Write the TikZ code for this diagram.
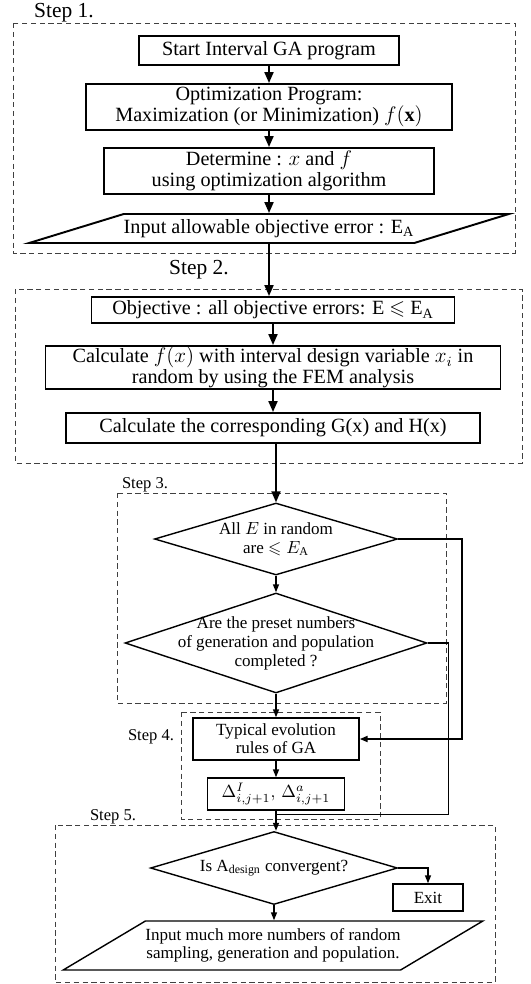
\documentclass[tikz,border=0pt]{standalone}
\usepackage{amssymb}
\usepackage{fontspec}
\setmainfont{Liberation Serif}
\usetikzlibrary{arrows.meta, positioning, shapes.geometric, calc}

\begin{document}
\begin{tikzpicture}[
    bigbox/.style={rectangle, draw=black, line width=1.1pt, align=center, inner sep=0.5pt, font=\fontsize{11.5}{11.8}\selectfont},
    smallbox/.style={rectangle, draw=black, thick, align=center, inner sep=1pt, font=\fontsize{9.7}{10.2}\selectfont},
    decision/.style={diamond, draw=black, thick, inner sep=0pt},
    dtext/.style={align=center, font=\fontsize{9.7}{10.8}\selectfont},
    io/.style={trapezium, draw=black, trapezium stretches=true, align=center, inner xsep=0pt, inner ysep=1pt},
    stepbox/.style={draw=black!75, densely dashed},
    steplabel/.style={font=\fontsize{12.2}{13}\selectfont},
    steplabelsmall/.style={font=\fontsize{9.4}{11}\selectfont},
    arrow/.style={-{Triangle[length=2.2mm, width=1.8mm]}, line width=1.1pt},
    arrowsmall/.style={-{Triangle[length=1.6mm, width=1.2mm]}, thick}
]
\useasboundingbox (0,0) rectangle (10.62,-19.68);

% step frames
\draw[stepbox] (0.26,-0.46) rectangle (10.30,-5.06);
\draw[stepbox] (0.30,-5.78) rectangle (10.44,-9.26);
\draw[stepbox] (2.34,-9.86) rectangle (8.92,-14.06);
\draw[stepbox] (3.62,-14.24) rectangle (7.60,-16.38);
\draw[stepbox] (1.10,-16.50) rectangle (9.90,-19.64);

\node[steplabel] (step1) at (1.28,-0.26) {Step 1.};
\node[steplabel] (step2) at (3.98,-5.40) {Step 2.};
\node[steplabelsmall] (step3) at (2.90,-9.70) {Step 3.};
\node[steplabelsmall] (step4) at (3.02,-14.74) {Step 4.};
\node[steplabelsmall] (step5) at (2.26,-16.34) {Step 5.};

% step 1
\node[bigbox, minimum width=5.2cm, minimum height=0.58cm] (start) at (5.38,-1.01) {Start Interval GA program};
\node[bigbox, minimum width=7.32cm, minimum height=0.92cm] (optim) at (5.38,-2.14) {Optimization Program:\\Maximization (or Minimization) $f(\mathbf{x})$};
\node[bigbox, minimum width=6.6cm, minimum height=0.92cm] (determine) at (5.38,-3.42) {Determine : $x$ and $f$\\using optimization algorithm};
\node[io, trapezium left angle=13, trapezium right angle=167, line width=1.1pt, minimum height=0.58cm, font=\fontsize{11.5}{11.8}\selectfont] (errin) at (5.38,-4.57) {Input allowable objective error : E$_{\mathrm{A}}$};

% step 2
\node[bigbox, minimum width=7.26cm, minimum height=0.52cm] (objective) at (5.46,-6.20) {Objective : all objective errors: E $\leqslant$ E$_{\mathrm{A}}$};
\node[bigbox, minimum width=9.1cm, minimum height=0.86cm] (calcf) at (5.46,-7.35) {Calculate $f(x)$ with interval design variable $x_i$ in\\random by using the FEM analysis};
\node[bigbox, minimum width=8.28cm, minimum height=0.6cm] (calcgh) at (5.46,-8.56) {Calculate the corresponding G(x) and H(x)};

% step 3
\node[decision, minimum width=4.86cm, minimum height=1.44cm, label={[dtext]center:All $E$ in random\\are $\leqslant E_{\mathrm{A}}$}] (allerr) at (5.52,-10.78) {};
\node[decision, minimum width=6.04cm, minimum height=2.0cm, label={[dtext]center:Are the preset numbers\\of generation and population\\completed ?}] (preset) at (5.52,-12.86) {};

% step 4
\node[smallbox, minimum width=3.32cm, minimum height=0.84cm] (evolve) at (5.52,-14.78) {Typical evolution\\rules of GA};
\node[smallbox, minimum width=2.74cm, minimum height=0.64cm] (delta) at (5.52,-15.88) {$\Delta^{I}_{i,j+1},\,\Delta^{a}_{i,j+1}$};

% step 5
\node[decision, minimum width=4.94cm, minimum height=1.46cm, label={[dtext]center:Is A$_{\mathrm{design}}$ convergent?}] (conv) at (5.48,-17.36) {};
\node[smallbox, minimum width=1.4cm, minimum height=0.54cm] (exitbox) at (8.56,-17.95) {Exit};
\node[io, trapezium left angle=24.5, trapezium right angle=155.5, thick, minimum height=0.98cm, font=\fontsize{9.7}{10.4}\selectfont] (moreinput) at (5.46,-18.91) {Input much more numbers of random\\sampling, generation and population.};

\draw[arrow] (start) -- (optim);
\draw[arrow] (optim) -- (determine);
\draw[arrow] (determine) -- (errin);
\draw[arrow] (errin.south) -- (errin.south |- objective.north);
\draw[arrow] (objective.south) -- (objective.south |- calcf.north);
\draw[arrow] (calcf) -- (calcgh);
\draw[arrow] (calcgh.south -| allerr.north) -- (allerr.north);
\draw[arrowsmall] (allerr) -- (preset);
\draw[arrowsmall, line width=1.1pt] (allerr.east) -- ++(1.28,0) |- (evolve.east);
\draw[arrowsmall] (preset) -- (evolve);
\draw[arrowsmall] (evolve) -- (delta);
\draw[arrowsmall] (delta.south) -- (delta.south |- conv.north);
\draw[thick] (preset.east) -- ++(0.42,0) |- ([yshift=-0.08cm]delta.south);
\draw[arrowsmall] (conv.east) -| (exitbox.north);
\draw[arrowsmall] (conv.south) -- (conv.south |- moreinput.north);
\end{tikzpicture}
\end{document}
